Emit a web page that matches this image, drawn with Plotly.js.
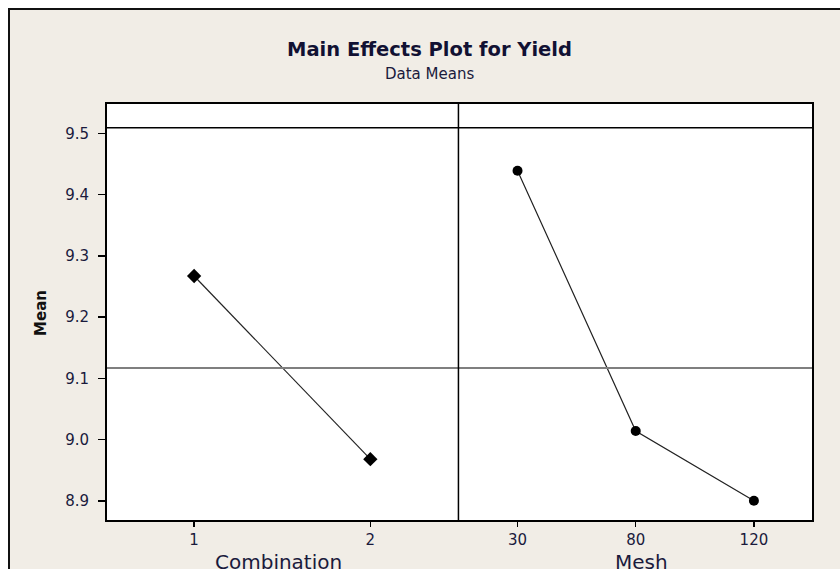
<!DOCTYPE html>
<html>
<head>
<meta charset="utf-8">
<script src="https://cdn.plot.ly/plotly-3.0.1.min.js"></script>
<style>
  html, body { margin: 0; padding: 0; background: #ffffff; }
  #frame { position: absolute; left: 8px; top: 8px; width: 840px; height: 569px;
           background: #f1ede6; border-left: 2px solid #111; border-top: 2px solid #111; }
  #chart { position: absolute; left: 0; top: 0; width: 840px; height: 569px; }
</style>
</head>
<body>
<div id="frame"></div>
<div id="chart"></div>
<script>
// ---- data ----
const combinationLevels = ['1', '2'];
const combinationMeans  = [9.267, 8.968];
const meshLevels = ['30', '80', '120'];
const meshMeans  = [9.439, 9.014, 8.900];
const grandMean = 9.117;
const topRefLine = 9.509;
const yTickVals = [8.9, 9.0, 9.1, 9.2, 9.3, 9.4, 9.5];

const txt = '#1a1a3c';
const fontFam = 'DejaVu Sans, Verdana, sans-serif';

const traces = [
  { x: combinationLevels, y: combinationMeans, xaxis: 'x', yaxis: 'y',
    type: 'scatter', mode: 'lines+markers',
    line: { color: '#222', width: 1.2 },
    marker: { symbol: 'diamond', size: 11, color: '#000' }, hoverinfo: 'x+y' },
  { x: meshLevels, y: meshMeans, xaxis: 'x2', yaxis: 'y',
    type: 'scatter', mode: 'lines+markers',
    line: { color: '#222', width: 1.2 },
    marker: { symbol: 'circle', size: 10, color: '#000' }, hoverinfo: 'x+y' }
];

const split = 0.4985;
const yRange = [8.867, 9.5495];

const layout = {
  width: 840, height: 569,
  margin: { l: 106, r: 27, t: 103, b: 48, pad: 0 },
  paper_bgcolor: 'rgba(0,0,0,0)',
  plot_bgcolor: '#ffffff',
  showlegend: false,
  font: { family: fontFam, color: txt, size: 14 },
  xaxis: { domain: [0, split], type: 'category', range: [-0.5, 1.5],
           showgrid: false, zeroline: false, showline: false,
           ticks: 'outside', ticklen: 5, tickwidth: 1.5, tickcolor: '#000',
           tickfont: { size: 15, color: txt, family: fontFam }, fixedrange: true },
  xaxis2: { domain: [split, 1], type: 'category', range: [-0.5, 2.5], anchor: 'y',
           showgrid: false, zeroline: false, showline: false,
           ticks: 'outside', ticklen: 5, tickwidth: 1.5, tickcolor: '#000',
           tickfont: { size: 15, color: txt, family: fontFam }, fixedrange: true },
  yaxis: { range: yRange, tickvals: yTickVals, tickformat: '.1f',
           showgrid: false, zeroline: false, showline: false,
           ticks: 'outside', ticklen: 7, tickwidth: 1.5, tickcolor: '#000',
           ticklabelstandoff: 6,
           tickfont: { size: 15, color: txt, family: fontFam }, fixedrange: true },
  shapes: [
    { type: 'line', xref: 'paper', yref: 'y', x0: 0, x1: 1, y0: grandMean, y1: grandMean,
      line: { color: '#7f7f7f', width: 2 } },
    { type: 'line', xref: 'paper', yref: 'y', x0: 0, x1: 1, y0: topRefLine, y1: topRefLine,
      line: { color: '#000', width: 1.5 } },
    { type: 'line', xref: 'paper', yref: 'paper', x0: split, x1: split, y0: 0, y1: 1,
      line: { color: '#000', width: 1.5 } },
    { type: 'rect', xref: 'paper', yref: 'paper', x0: 0, x1: 1, y0: 0, y1: 1,
      line: { color: '#000', width: 2 } }
  ],
  annotations: [
    { text: '<b>Main Effects Plot for Yield</b>', xref: 'paper', yref: 'paper',
      x: 0.457, y: 1.127, xanchor: 'center', yanchor: 'middle', showarrow: false,
      font: { size: 19.5, color: '#111133', family: fontFam } },
    { text: 'Data Means', xref: 'paper', yref: 'paper',
      x: 0.457, y: 1.069, xanchor: 'center', yanchor: 'middle', showarrow: false,
      font: { size: 15, color: txt, family: fontFam } },
    { text: '<b>Mean</b>', xref: 'paper', yref: 'paper', textangle: -90,
      x: -0.091, y: 0.497, xanchor: 'center', yanchor: 'middle', showarrow: false,
      font: { size: 15, color: '#111', family: fontFam } },
    { text: 'Combination', xref: 'paper', yref: 'paper',
      x: 0.2444, y: -0.065, xanchor: 'center', yanchor: 'top', showarrow: false,
      font: { size: 20, color: txt, family: fontFam } },
    { text: 'Mesh', xref: 'paper', yref: 'paper',
      x: 0.757, y: -0.065, xanchor: 'center', yanchor: 'top', showarrow: false,
      font: { size: 20, color: txt, family: fontFam } }
  ]
};

Plotly.newPlot('chart', traces, layout, { displayModeBar: false, staticPlot: true });
</script>
</body>
</html>
